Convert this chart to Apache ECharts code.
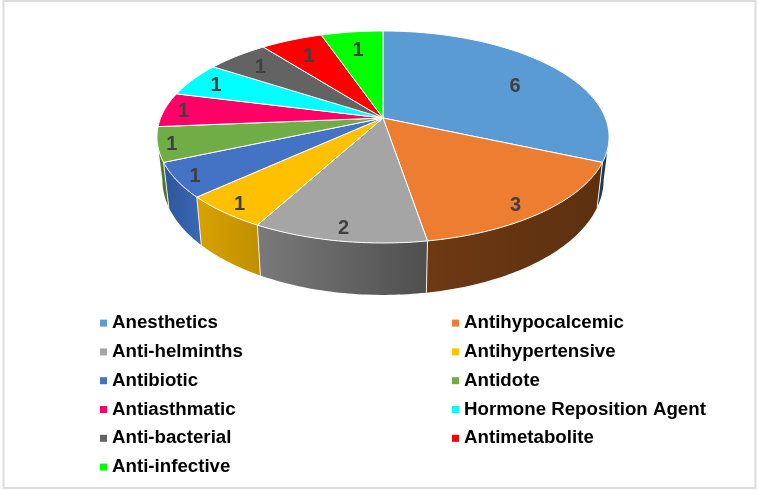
<!DOCTYPE html>
<html>
<head>
<meta charset="utf-8">
<title>Drug classes</title>
<style>
  html, body { margin: 0; padding: 0; background: #fff; }
  #chart { width: 759px; height: 490px; }
</style>
<script src="https://cdn.jsdelivr.net/npm/echarts@6/dist/echarts.min.js"></script>
</head>
<body>
<div id="chart"></div>
<script>
  var categories = ['Anesthetics', 'Antihypocalcemic', 'Anti-helminths', 'Antihypertensive', 'Antibiotic', 'Antidote', 'Antiasthmatic', 'Hormone Reposition Agent', 'Anti-bacterial', 'Antimetabolite', 'Anti-infective']
  var counts = [6, 3, 2, 1, 1, 1, 1, 1, 1, 1, 1]

  var colors = ['#5b9bd5', '#ed7d31', '#a5a5a5', '#ffc000', '#4472c4', '#70ad47', '#ff0066', '#00ffff', '#636363', '#ff0000', '#00ff00']
  var wallColors = [
    ['#1f3f62', '#1a3654'], ['#6e3913', '#5c3010'], ['#7a7a7a', '#4f4f4f'], ['#d8a200', '#bf8f00'],
    ['#2f5597', '#3a69b8'], ['#527e33', '#4a7330'], ['#a0003f', '#a0003f'], ['#00a0a0', '#00a0a0'],
    ['#404040', '#404040'], ['#a00000', '#a00000'], ['#00a000', '#00a000']
  ]

  // tilted disc: the apex is not the middle of the ellipse, so map with a perspective term
  var disc = { cx: 383, cy: 118, a: 222.4, b: 102.6, k: -0.179 }
  var floor = { dy: 41.2, sx: 0.976, sy: 1.086 }
  var wallFrom = 100.4
  var wallTo = 259.6

  // hand placed labels in the original: reach from apex, and turn off the slice middle
  var labelReach = [0.675, 1.03, 1.077, 1.05, 1.01, 0.98, 0.9, 0.82, 0.75, 0.7, 0.68]
  var labelTurn = [4.7, 2.5, 0, 0, 0, 0, 0, 0, 0, 0, 0]

  var total = counts.reduce(function (s, v) { return s + v }, 0)

  function topPoint (deg, r) {
    var rad = deg * Math.PI / 180
    var X = Math.sin(rad) * r
    var Y = -Math.cos(rad) * r
    var w = 1 + disc.k * Y
    return [disc.cx + disc.a * X / w, disc.cy + disc.b * Y / w]
  }

  function floorPoint (deg) {
    var p = topPoint(deg, 1)
    return [disc.cx + (p[0] - disc.cx) * floor.sx, disc.cy + floor.dy + (p[1] - disc.cy) * floor.sy]
  }

  function sliceItem (index) {
    return function (params, api) {
      var before = counts.slice(0, index).reduce(function (s, v) { return s + v }, 0)
      var start = before / total * 360
      var end = start + api.value(0) / total * 360
      var children = []

      var from = Math.max(start, wallFrom)
      var to = Math.min(end, wallTo)
      if (to > from) {
        var upper = []
        var lower = []
        for (var d = from; d < to; d += 1) {
          upper.push(topPoint(d, 1))
          lower.unshift(floorPoint(d))
        }
        upper.push(topPoint(to, 1))
        lower.unshift(floorPoint(to))
        children.push({
          type: 'polygon',
          z2: 1,
          shape: { points: upper.concat(lower) },
          style: {
            fill: new echarts.graphic.LinearGradient(0, 0, 1, 0, [
              { offset: 0, color: wallColors[index][0] },
              { offset: 1, color: wallColors[index][1] }
            ])
          }
        })
        // seam between two walls
        if (end < wallTo) {
          var a = topPoint(end, 1)
          var b = floorPoint(end)
          children.push({
            type: 'line',
            z2: 2,
            shape: { x1: a[0], y1: a[1], x2: b[0], y2: b[1] },
            style: { stroke: '#f4efe2', lineWidth: 1 }
          })
        }
      }

      var face = [topPoint(0, 0)]
      for (var t = start; t < end; t += 1) {
        face.push(topPoint(t, 1))
      }
      face.push(topPoint(end, 1))
      children.push({
        type: 'polygon',
        z2: 3,
        shape: { points: face },
        style: { fill: colors[index], stroke: '#ffffff', lineWidth: 1 }
      })

      var mid = (start + end) / 2 + labelTurn[index]
      var rad = mid * Math.PI / 180
      children.push({
        type: 'text',
        z2: 4,
        style: {
          x: disc.cx + disc.a * Math.sin(rad) * labelReach[index],
          y: disc.cy + 1.5 - disc.b * Math.cos(rad) * labelReach[index],
          text: String(api.value(0)),
          fill: '#404040',
          font: 'bold 20px "Liberation Sans", Arial, sans-serif',
          align: 'center',
          verticalAlign: 'middle'
        }
      })
      return { type: 'group', children: children }
    }
  }

  var legendFont = {
    color: '#000',
    fontFamily: '"Liberation Sans", Arial, sans-serif',
    fontWeight: 'bold',
    fontSize: 18.7
  }

  function legendColumn (names, left) {
    return {
      orient: 'vertical',
      left: left,
      top: 308.6,
      icon: 'rect',
      itemWidth: 7,
      itemHeight: 7,
      itemGap: 9.8,
      selectedMode: false,
      textStyle: legendFont,
      data: names
    }
  }

  var option = {
    backgroundColor: '#fff',
    animation: false,
    tooltip: { show: false },
    legend: [
      legendColumn(categories.filter(function (c, i) { return i % 2 === 0 }), 95),
      legendColumn(categories.filter(function (c, i) { return i % 2 === 1 }), 447)
    ],
    graphic: [{
      type: 'rect',
      silent: true,
      z: -1,
      shape: { x: 3.5, y: 1, width: 752, height: 487 },
      style: { fill: '#fff', stroke: '#dcdcdc', lineWidth: 2 }
    }],
    series: categories.map(function (name, i) {
      return {
        name: name,
        type: 'custom',
        coordinateSystem: 'none',
        silent: true,
        itemStyle: { color: colors[i] },
        renderItem: sliceItem(i),
        data: [[counts[i]]]
      }
    })
  }

  var chart = echarts.init(document.getElementById('chart'), null, { renderer: 'canvas' })
  chart.setOption(option)
</script>
</body>
</html>
